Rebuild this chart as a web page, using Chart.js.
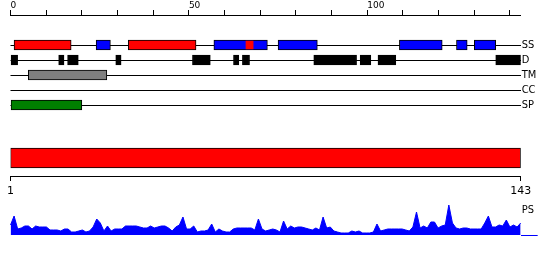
<!DOCTYPE html>
<html><head><meta charset="utf-8">
<script src="https://cdn.jsdelivr.net/npm/chart.js@4/dist/chart.umd.min.js"></script>
<style>
html,body{margin:0;padding:0;background:#fff;}
#wrap{position:relative;width:550px;height:260px;overflow:hidden;}
canvas{position:absolute;left:0;}
</style></head>
<body>
<div id="wrap">
<canvas id="c1" width="550" height="130" style="top:0"></canvas>
<canvas id="c2" width="550" height="70" style="top:140px"></canvas>
<canvas id="c3" width="550" height="80" style="top:180px"></canvas>
</div>
<script>
// ---- data ----
const tracks = ['SS', 'D', 'TM', 'CC', 'SP'];
const helixSegments = [[1, 17], [33, 52]];
const helixInsideStrand = [[66, 68]];
const strandSegments = [[24, 28], [57, 72], [75, 86], [109, 121], [125, 128], [130, 136]];
const disorderSegments = [[0, 2], [13.5, 15], [16, 19], [29.5, 31], [51, 56], [62.5, 64], [65, 67], [85, 97], [98, 101], [103, 108], [136, 143]];
const tmSegments = [[5, 27]];
const ccSegments = [];
const spSegments = [[0, 20]];
const topTickValues = [0, 10, 20, 30, 40, 50, 60, 70, 80, 90, 100, 110, 120, 130, 140];
const topTickLabels = ['0', '', '', '', '', '50', '', '', '', '', '100', '', '', '', ''];
const seqLength = 143;
const seqRange = [1, 143];
const seqTickValues = [1, 143];
const psScores = [
  10,19,6,7,9,9,6,9,8,8,
  8,5,5,5,4,6,6,3,3,4,
  5,3,4,8,16,12,4,9,4,6,
  6,6,9,9,9,9,8,7,7,9,
  7,8,9,9,7,4,8,10,18,6,
  6,9,3,4,4,5,11,3,6,4,
  3,3,6,7,7,7,7,7,5,16,
  6,4,5,6,5,3,14,6,9,7,
  8,8,7,6,5,7,5,18,7,8,
  4,3,2,2,2,4,3,4,2,2,
  2,3,11,4,5,6,6,6,6,6,
  5,4,8,23,7,9,7,13,13,7,
  9,10,30,12,7,6,7,7,6,6,
  6,6,12,19,8,8,10,9,15,8,
  10,8,12
];
const psTickValues = [0, 25];
const psTickLabels = ['', 'PS'];

// ---- helpers ----
const NUM_FONT = {family: 'DejaVu Sans', size: 9, lineHeight: 1};
const LBL_FONT = {family: "'Liberation Sans Narrow', 'DejaVu Sans Condensed', 'DejaVu Sans'", size: 11, lineHeight: 1};
function segs(track, list) {
  const y = tracks.indexOf(track) + 1;
  return list.map(s => ({x: s, y: y}));
}
function barDs(data, color, thickness, border) {
  return {
    data: data, backgroundColor: color, borderColor: '#000',
    borderWidth: border, borderSkipped: false, barThickness: thickness,
    grouped: false
  };
}

// ---- chart 1: feature tracks ----
new Chart(document.getElementById('c1'), {
  type: 'bar',
  data: {
    datasets: [
      barDs(segs('SS', helixInsideStrand), '#ff0000', 8, 0),
      barDs(segs('SS', helixSegments), '#ff0000', 10, 1),
      barDs(segs('SS', strandSegments), '#0000ff', 10, 1),
      barDs(segs('D', disorderSegments), '#000000', 10, 1),
      barDs(segs('TM', tmSegments), '#808080', 10, 1),
      barDs(segs('CC', ccSegments), '#ffff00', 10, 1),
      barDs(segs('SP', spSegments), '#008000', 10, 1)
    ]
  },
  options: {
    indexAxis: 'y',
    responsive: false,
    animation: false,
    layout: {padding: {left: 10.5, right: 0, top: 1, bottom: 10}},
    plugins: {legend: {display: false}, tooltip: {enabled: false}},
    scales: {
      x: {
        type: 'linear', position: 'top', min: 0, max: seqLength,
        afterBuildTicks: s => { s.ticks = topTickValues.map(v => ({value: v})); },
        ticks: {
          callback: (v) => topTickLabels[topTickValues.indexOf(v)] || '',
          align: 'start', padding: 0, autoSkip: false, maxRotation: 0,
          color: '#000', font: NUM_FONT
        },
        grid: {drawOnChartArea: false, drawTicks: true, tickLength: 5, color: '#000', lineWidth: 1},
        border: {display: true, color: '#000', width: 1}
      },
      y: {
        type: 'linear', position: 'right', reverse: true, min: -1, max: 6, offset: false,
        afterBuildTicks: s => { s.ticks = tracks.map((t, i) => ({value: i + 1})); },
        afterFit: s => { s.width = 29.3; },
        ticks: {
          callback: (v) => tracks[v - 1] || '',
          padding: 1, autoSkip: false, color: '#000', font: LBL_FONT
        },
        grid: {offset: false, drawOnChartArea: true, drawTicks: false, color: '#000', lineWidth: 1},
        border: {display: false}
      }
    }
  }
});

// ---- chart 2: sequence bar with ruler ----
new Chart(document.getElementById('c2'), {
  type: 'bar',
  data: {
    labels: ['sequence'],
    datasets: [{
      data: [seqRange], backgroundColor: '#ff0000', borderColor: '#000',
      borderWidth: 1, borderSkipped: false, barThickness: 20
    }]
  },
  options: {
    indexAxis: 'y',
    responsive: false,
    animation: false,
    layout: {padding: {left: 10.5, right: 29.3, top: 0, bottom: 7.8}},
    plugins: {legend: {display: false}, tooltip: {enabled: false}},
    scales: {
      x: {
        type: 'linear', position: 'bottom', min: seqRange[0], max: seqRange[1],
        afterBuildTicks: s => { s.ticks = seqTickValues.map(v => ({value: v})); },
        ticks: {padding: 4, autoSkip: false, maxRotation: 0, color: '#000',
          font: {family: 'DejaVu Sans', size: 11}},
        grid: {drawOnChartArea: false, drawTicks: true, tickLength: 5, color: '#000', lineWidth: 1},
        border: {display: true, color: '#000', width: 1}
      },
      y: {display: false}
    }
  }
});

// ---- chart 3: PS profile ----
new Chart(document.getElementById('c3'), {
  type: 'line',
  data: {
    labels: psScores.map((_, i) => i + 1),
    datasets: [{
      data: psScores, fill: 'origin', backgroundColor: '#0000ff', borderColor: '#0000ff',
      borderWidth: 1, pointRadius: 0, tension: 0
    }]
  },
  options: {
    responsive: false,
    animation: false,
    layout: {padding: {left: 10.5, right: 0, top: 15, bottom: 25}},
    plugins: {legend: {display: false}, tooltip: {enabled: false}},
    scales: {
      x: {display: false, offset: false},
      y: {
        position: 'right', min: 0, max: 40,
        afterBuildTicks: s => { s.ticks = psTickValues.map(v => ({value: v})); },
        afterFit: s => { s.width = 29.3; },
        ticks: {
          callback: (v) => psTickLabels[psTickValues.indexOf(v)] || '',
          padding: -16, autoSkip: false, color: '#000', font: LBL_FONT
        },
        grid: {
          drawOnChartArea: false, drawTicks: true, tickLength: 17, lineWidth: 1,
          color: c => (c.tick && c.tick.value === 0) ? '#0000ff' : 'rgba(0,0,0,0)'
        },
        border: {display: false}
      }
    }
  }
});
</script>
</body></html>
